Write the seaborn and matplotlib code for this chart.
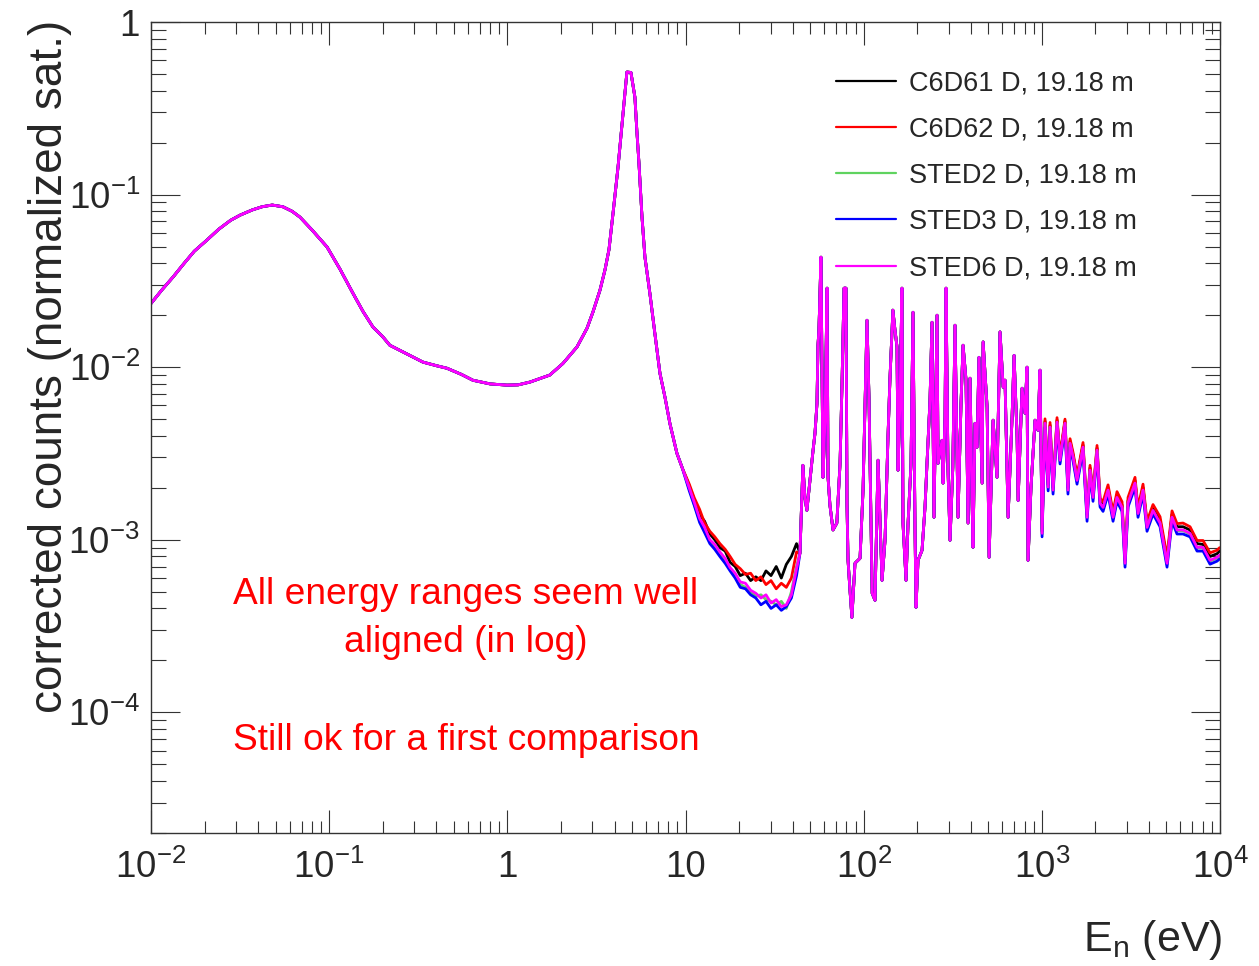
import numpy as np
import pandas as pd
import matplotlib
matplotlib.use("Agg")
import matplotlib.pyplot as plt
import matplotlib.ticker as mticker
import seaborn as sns

# ---------------- data ----------------
detectors = ["C6D61 D, 19.18 m", "C6D62 D, 19.18 m", "STED2 D, 19.18 m",
             "STED3 D, 19.18 m", "STED6 D, 19.18 m"]
colors = ["#000000", "#ff0000", "#5fd35f", "#0000ff", "#ff00ff"]

# thermal + 4.9 eV resonance region (shared by all detectors)
energy_thermal = [0.0100, 0.0115, 0.0133, 0.0152, 0.0175, 0.0206, 0.0240, 0.0280,
                  0.0316, 0.0370, 0.0420, 0.0479, 0.0550, 0.0620, 0.0686, 0.0800,
                  0.0973, 0.1150, 0.1360, 0.1550, 0.1760, 0.2000, 0.2190, 0.2700,
                  0.3360, 0.4000, 0.4580, 0.5500, 0.6410, 0.8000, 0.9950, 1.150,
                  1.340, 1.730, 2.050, 2.460, 2.800, 3.020, 3.310, 3.530, 3.720,
                  3.920, 4.180, 4.460, 4.690, 4.940, 5.200, 5.330, 5.480, 5.700,
                  5.920, 6.310, 6.730, 7.190, 7.670, 8.180, 8.950, 9.600]
counts_thermal = [0.0234, 0.0280, 0.0333, 0.0395, 0.0470, 0.0545, 0.0630, 0.0710,
                  0.0760, 0.0815, 0.0850, 0.0870, 0.0850, 0.0800, 0.0740, 0.0625,
                  0.0497, 0.0370, 0.0268, 0.0210, 0.0171, 0.0150, 0.0134, 0.0120,
                  0.0107, 0.0102, 0.00986, 0.0091, 0.0084, 0.0080, 0.00787, 0.0079,
                  0.0082, 0.0090, 0.0105, 0.0131, 0.0168, 0.0208, 0.0279, 0.0365, 0.0480,
                  0.0780, 0.1440, 0.2960, 0.5130, 0.5100, 0.3670, 0.2360, 0.1520, 0.0740,
                  0.0434, 0.0268, 0.0157, 0.0092, 0.0067, 0.0047, 0.00317, 0.0026]

# 10 - 42 eV valley (detectors differ here)
energy_valley = [10.5, 11.2, 12.0, 12.8, 13.7, 14.6, 15.6, 16.7, 17.8, 19.0, 20.3,
                 21.7, 23.2, 24.8, 26.5, 28.3, 30.2, 32.3, 34.5, 36.8, 39.3, 42.0]
valley_c6d61 = [0.00205, 0.00170, 0.00140, 0.00128, 0.00108, 0.00100, 0.00090, 0.00086,
                0.00074, 0.00070, 0.00062, 0.00064, 0.00058, 0.00061, 0.00058, 0.00066,
                0.00062, 0.00070, 0.00060, 0.00072, 0.00080, 0.00095]
valley_c6d62 = [0.00210, 0.00175, 0.00150, 0.00125, 0.00112, 0.00104, 0.00095, 0.00088,
                0.00080, 0.00072, 0.00068, 0.00063, 0.00064, 0.00058, 0.00061, 0.00055,
                0.00058, 0.00052, 0.00056, 0.00053, 0.00060, 0.00085]
valley_sted2 = [0.00198, 0.00160, 0.00130, 0.00115, 0.00098, 0.00090, 0.00083, 0.00075,
                0.00068, 0.00061, 0.00055, 0.00053, 0.00050, 0.00047, 0.00048, 0.00045,
                0.00044, 0.00042, 0.00044, 0.00040, 0.00050, 0.00070]
valley_sted3 = [0.00192, 0.00158, 0.00126, 0.00110, 0.00095, 0.00088, 0.00080, 0.00073,
                0.00066, 0.00060, 0.00053, 0.00052, 0.00048, 0.00046, 0.00042, 0.00044,
                0.00040, 0.00042, 0.00039, 0.00041, 0.00046, 0.00062]
valley_sted6 = [0.00200, 0.00165, 0.00133, 0.00118, 0.00100, 0.00094, 0.00085, 0.00078,
                0.00069, 0.00064, 0.00057, 0.00056, 0.00051, 0.00049, 0.00046, 0.00048,
                0.00043, 0.00045, 0.00041, 0.00042, 0.00048, 0.00068]

# resolved resonance region 43 eV - 1 keV (shared)
energy_res = [43.9, 45.6, 46.8, 48.0, 49.96, 52.0, 53.3, 54.7, 55.4, 56.1, 57.6, 59.1,
              60.7, 62.3, 63.1, 64.7, 67.3, 70.7, 73.7, 75.6, 77.6, 79.6, 80.6, 81.7,
              83.8, 85.9, 89.4, 95.4, 99.2, 104.4, 107.1, 111.6, 115.8, 120.4, 126.8,
              131.8, 136.9, 140.5, 145.9, 149.9, 153.9, 155.9, 159.9, 164.1, 166.2,
              172.9, 177.5, 184.4, 189.2, 194.2, 196.7, 201.9, 212.6, 220.9, 226.7,
              235.7, 241.9, 248.2, 258.1, 261.5, 275.3, 278.9, 286.2, 289.9, 297.5,
              305.3, 316.5, 325.6, 338.5, 351.9, 361.2, 375.5, 385.3, 395.3, 405.6,
              410.9, 421.7, 432.7, 444.0, 462.2, 468.2, 493.0, 505.9, 532.6, 560.3,
              582.5, 606.7, 621.4, 646.6, 680.7, 698.5, 726.5, 736.0, 774.6, 804.8,
              825.8, 836.6, 869.6, 915.8, 951.6, 976.8]
counts_res = [0.000835, 0.00270, 0.00176, 0.00148, 0.00221, 0.00330, 0.00414, 0.00618,
              0.0134, 0.0164, 0.0434, 0.00230, 0.00493, 0.0287, 0.00230, 0.00158,
              0.00114, 0.00125, 0.00277, 0.00807, 0.0287, 0.0287, 0.00163, 0.000760,
              0.000509, 0.000355, 0.000731, 0.000781, 0.00194, 0.0187, 0.00670,
              0.000490, 0.000446, 0.00289, 0.000582, 0.000993, 0.00393, 0.00863,
              0.0214, 0.0164, 0.0131, 0.00253, 0.00644, 0.0287, 0.00125, 0.000582,
              0.00125, 0.00277, 0.0208, 0.00114, 0.000406, 0.000760, 0.000869,
              0.00154, 0.00277, 0.00644, 0.0182, 0.00135, 0.0200, 0.00277, 0.00377,
              0.00213, 0.00513, 0.0287, 0.00253, 0.000993, 0.00263, 0.0175, 0.00135,
              0.00618, 0.0134, 0.00841, 0.00125, 0.00863, 0.00176, 0.000905, 0.00473,
              0.00344, 0.0114, 0.00213, 0.0140, 0.00586, 0.000792, 0.00493, 0.00230,
              0.0160, 0.00766, 0.00841, 0.00135, 0.00513, 0.0117, 0.00393, 0.00169,
              0.00755, 0.00541, 0.0100, 0.000760, 0.00202, 0.00493, 0.00431, 0.00961]

# 1 - 10 keV unresolved region (detectors differ slightly)
energy_high = [1003, 1042, 1085, 1112, 1156, 1217, 1265, 1349, 1402, 1440, 1497, 1576,
               1703, 1794, 1864, 1938, 2041, 2122, 2206, 2353, 2510, 2642, 2819, 2931,
               3047, 3334, 3466, 3698, 3894, 4208, 4607, 5043, 5379, 5738, 6201, 6789,
               7432, 8031, 8791, 9624, 9950]
high_c6d61 = [0.00112, 0.00487, 0.00208, 0.00462, 0.00200, 0.00494, 0.00298, 0.00487,
              0.00200, 0.00373, 0.00310, 0.00228, 0.00354, 0.00140, 0.00261, 0.00182,
              0.00340, 0.00168, 0.00159, 0.00200, 0.00140, 0.00182, 0.00159, 0.00076,
              0.00168, 0.00220, 0.00147, 0.00201, 0.00122, 0.00154, 0.00130, 0.00076,
              0.00140, 0.00119, 0.00119, 0.00114, 0.00095, 0.00094, 0.00080, 0.00083,
              0.00086]
high_c6d62 = [0.00116, 0.00502, 0.00214, 0.00478, 0.00206, 0.00510, 0.00306, 0.00500,
              0.00206, 0.00385, 0.00320, 0.00235, 0.00366, 0.00144, 0.00270, 0.00188,
              0.00352, 0.00174, 0.00166, 0.00208, 0.00145, 0.00190, 0.00166, 0.00079,
              0.00176, 0.00230, 0.00153, 0.00210, 0.00128, 0.00160, 0.00136, 0.00080,
              0.00147, 0.00124, 0.00125, 0.00119, 0.00099, 0.00099, 0.00084, 0.00087,
              0.00090]
high_sted2 = [0.00108, 0.00468, 0.00200, 0.00445, 0.00192, 0.00475, 0.00286, 0.00468,
              0.00192, 0.00358, 0.00298, 0.00219, 0.00340, 0.00134, 0.00250, 0.00174,
              0.00327, 0.00161, 0.00152, 0.00192, 0.00134, 0.00174, 0.00152, 0.000724,
              0.00161, 0.00211, 0.00141, 0.00192, 0.00117, 0.00146, 0.00124, 0.000724,
              0.00134, 0.00113, 0.00113, 0.00108, 0.000896, 0.000896, 0.000752, 0.000784,
              0.000807]
high_sted3 = [0.00104, 0.00449, 0.00192, 0.00427, 0.00184, 0.00456, 0.00275, 0.00449,
              0.00184, 0.00344, 0.00286, 0.00210, 0.00327, 0.00128, 0.00240, 0.00167,
              0.00314, 0.00155, 0.00146, 0.00184, 0.00128, 0.00167, 0.00146, 0.000694,
              0.00155, 0.00202, 0.00135, 0.00184, 0.00112, 0.00141, 0.00119, 0.000694,
              0.00128, 0.00108, 0.00108, 0.00104, 0.000860, 0.000860, 0.000722, 0.000752,
              0.000774]
high_sted6 = [0.00109, 0.00473, 0.00202, 0.00449, 0.00194, 0.00480, 0.00289, 0.00473,
              0.00194, 0.00362, 0.00301, 0.00221, 0.00344, 0.00135, 0.00253, 0.00176,
              0.00330, 0.00163, 0.00154, 0.00194, 0.00135, 0.00176, 0.00154, 0.000731,
              0.00163, 0.00213, 0.00142, 0.00194, 0.00118, 0.00148, 0.00125, 0.000731,
              0.00135, 0.00114, 0.00114, 0.00109, 0.000905, 0.000905, 0.000760, 0.000792,
              0.000815]

x_ticks = [1e-2, 1e-1, 1, 10, 1e2, 1e3, 1e4]
x_tick_labels = [r"$10^{-2}$", r"$10^{-1}$", "1", "10", r"$10^{2}$", r"$10^{3}$", r"$10^{4}$"]
y_ticks = [1e-4, 1e-3, 1e-2, 1e-1, 1]
y_tick_labels = [r"$10^{-4}$", r"$10^{-3}$", r"$10^{-2}$", r"$10^{-1}$", "1"]

note_lines = ["All energy ranges seem well", "aligned (in log)", "Still ok for a first comparison"]

# ---------------- assemble long table ----------------
valleys = [valley_c6d61, valley_c6d62, valley_sted2, valley_sted3, valley_sted6]
highs = [high_c6d61, high_c6d62, high_sted2, high_sted3, high_sted6]
energy_all = energy_thermal + energy_valley + energy_res + energy_high
frames = []
for det, v, h in zip(detectors, valleys, highs):
    frames.append(pd.DataFrame({
        "energy": energy_all,
        "counts": counts_thermal + v + counts_res + h,
        "detector": det,
    }))
df = pd.concat(frames, ignore_index=True)

# ---------------- style ----------------
sns.set_style("ticks")
plt.rcParams["font.family"] = ["Liberation Sans", "DejaVu Sans"]
plt.rcParams["mathtext.fontset"] = "custom"
plt.rcParams["mathtext.rm"] = "Liberation Sans"
plt.rcParams["mathtext.it"] = "Liberation Sans:italic"
plt.rcParams["mathtext.bf"] = "Liberation Sans:bold"

W, H = 1259, 966
fig = plt.figure(figsize=(W / 100, H / 100), dpi=100)
ax = fig.add_axes([151 / W, 1 - 833 / H, (1220 - 151) / W, (833 - 22) / H])

sns.lineplot(data=df, x="energy", y="counts", hue="detector", hue_order=detectors,
             palette=colors, estimator=None, sort=False, linewidth=2.0, ax=ax)

ax.set_xscale("log")
ax.set_yscale("log")
ax.set_xlim(1e-2, 1e4)
ax.set_ylim(2e-5, 1)

ax.xaxis.set_major_locator(mticker.FixedLocator(x_ticks))
ax.xaxis.set_major_formatter(mticker.FixedFormatter(x_tick_labels))
ax.yaxis.set_major_locator(mticker.FixedLocator(y_ticks))
ax.yaxis.set_major_formatter(mticker.FixedFormatter(y_tick_labels))
ax.xaxis.set_minor_locator(mticker.LogLocator(base=10, subs=np.arange(2, 10), numticks=20))
ax.yaxis.set_minor_locator(mticker.LogLocator(base=10, subs=np.arange(2, 10), numticks=20))
ax.xaxis.set_minor_formatter(mticker.NullFormatter())
ax.yaxis.set_minor_formatter(mticker.NullFormatter())

ax.tick_params(axis="x", which="major", direction="in", length=16.5, width=0.8,
               top=True, bottom=True, labelsize=26.5, pad=12, color="#333333")
ax.tick_params(axis="x", which="minor", direction="in", length=8.6, width=0.8,
               top=True, bottom=True, color="#333333")
ax.tick_params(axis="y", which="major", direction="in", length=21, width=0.8,
               left=True, right=True, labelsize=26.5, pad=8, color="#333333")
ax.tick_params(axis="y", which="minor", direction="in", length=10.8, width=0.8,
               left=True, right=True, color="#333333")
for sp in ax.spines.values():
    sp.set_linewidth(1.0)
    sp.set_color("#333333")

ax.set_xlabel("")
ax.set_ylabel("")
fig.text(1222 / W, 1 - 940 / H, r"E$_{\mathrm{n}}$ (eV)", ha="right", va="center", fontsize=31)
fig.text(50 / W, 1 - 20 / H, "corrected counts (normalized sat.)", rotation=90,
         ha="center", va="top", fontsize=33)

# legend
handles, labels = ax.get_legend_handles_labels()
leg = ax.legend(handles, labels, loc="upper left", frameon=False,
                bbox_to_anchor=(836 / W, 1 - 70 / H), bbox_transform=fig.transFigure,
                fontsize=19.5, handlelength=2.2, handletextpad=0.5, labelspacing=0.75,
                borderpad=0, borderaxespad=0)
for ln in leg.get_lines():
    ln.set_linewidth(1.6)

# annotations
fig.text(466 / W, 1 - 594 / H, note_lines[0], ha="center", va="center", color="#ff0000", fontsize=26.7)
fig.text(466 / W, 1 - 642 / H, note_lines[1], ha="center", va="center", color="#ff0000", fontsize=26.7)
fig.text(466 / W, 1 - 741 / H, note_lines[2], ha="center", va="center", color="#ff0000", fontsize=26.7)

fig.savefig("out.png", dpi=100, facecolor="white")
